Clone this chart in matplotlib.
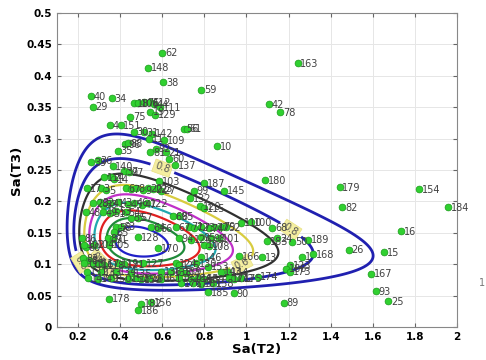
import numpy as np
import matplotlib
matplotlib.use('Agg')
import matplotlib.pyplot as plt

# --- record points: (Sa(T2), Sa(T3), id) ---
upper_pts = [
    (0.601, 0.437, '62'), (0.533, 0.413, '148'), (0.604, 0.390, '38'), (0.786, 0.378, '59'),
    (0.260, 0.368, '40'), (0.360, 0.364, '34'), (0.270, 0.351, '29'), (0.465, 0.357, '18'),
    (0.485, 0.357, '106'), (0.513, 0.358, '76'), (0.541, 0.358, '112'), (0.560, 0.355, '44'),
    (0.590, 0.350, '111'), (1.107, 0.355, '42'), (1.159, 0.342, '78'), (1.243, 0.420, '163'),
    (0.448, 0.335, '75'), (0.543, 0.343, '19'), (0.566, 0.338, '129'), (0.352, 0.322, '4'),
    (0.402, 0.322, '151'), (0.701, 0.316, '56'), (0.716, 0.316, '61'), (0.862, 0.288, '10'),
    (0.464, 0.311, '30'), (0.513, 0.310, '31'), (0.550, 0.308, '142'), (0.538, 0.300, '11'),
    (0.609, 0.298, '109'), (0.424, 0.291, '96'), (0.435, 0.293, '88'), (0.388, 0.281, '35'),
    (0.543, 0.278, '81'), (0.570, 0.284, '92'), (0.617, 0.278, '21'), (0.633, 0.268, '60'),
    (0.262, 0.262, '39'), (0.293, 0.266, '36'), (0.661, 0.258, '137'), (0.364, 0.256, '140'),
    (0.418, 0.248, '37'), (0.442, 0.247, '97'), (0.584, 0.232, '103'), (0.797, 0.229, '187'),
    (0.892, 0.217, '145'), (1.090, 0.234, '180'),
]

mid_upper_pts = [
    (0.323, 0.239, '114'), (0.356, 0.239, '2'), (0.371, 0.236, '14'),
    (0.243, 0.221, '17'), (0.309, 0.221, '3'), (0.333, 0.218, '5'), (0.427, 0.221, '6'),
    (0.451, 0.219, '7'), (0.475, 0.221, '8'), (0.508, 0.218, '9'), (0.532, 0.221, '20'),
    (0.555, 0.219, '22'), (0.579, 0.221, '23'), (0.593, 0.217, '27'),
    (0.750, 0.217, '99'), (0.731, 0.205, '132'),
    (0.271, 0.197, '28'), (0.304, 0.199, '32'), (0.318, 0.195, '33'), (0.352, 0.197, '41'),
    (0.390, 0.199, '43'), (0.437, 0.196, '45'), (0.465, 0.198, '46'), (0.503, 0.195, '47'),
    (0.527, 0.197, '122'), (0.778, 0.193, '120'), (0.797, 0.189, '115'),
    (0.238, 0.183, '48'), (0.318, 0.183, '49'), (0.352, 0.181, '51'), (0.380, 0.184, '53'),
    (0.427, 0.183, '54'), (0.650, 0.177, '69'), (0.679, 0.177, '85'),
    (0.973, 0.166, '110'), (1.020, 0.167, '100'), (0.451, 0.174, '55'), (0.484, 0.174, '57'),
]

mid_pts = [
    (0.380, 0.159, '58'), (0.404, 0.160, '63'), (0.546, 0.159, '64'), (0.579, 0.157, '66'),
    (0.664, 0.159, '67'), (0.726, 0.160, '71'), (0.750, 0.158, '72'), (0.783, 0.159, '73'),
    (0.821, 0.157, '74'), (0.845, 0.159, '77'), (0.878, 0.160, '79'), (0.901, 0.159, '52'),
    (0.484, 0.143, '128'), (0.371, 0.151, '65'), (0.579, 0.126, '170'), (0.736, 0.139, '126'),
    (0.238, 0.127, '80'), (0.224, 0.110, '83'), (0.252, 0.107, '84'),
    (0.219, 0.142, '86'), (0.342, 0.142, '87'), (0.366, 0.140, '91'), (0.679, 0.142, '94'),
    (0.783, 0.143, '95'), (0.830, 0.141, '98'), (0.868, 0.142, '101'),
    (0.228, 0.131, '102'), (0.276, 0.131, '104'), (0.347, 0.131, '105'), (0.797, 0.131, '107'),
    (0.821, 0.129, '108'), (0.783, 0.111, '146'), (0.508, 0.102, '127'), (0.816, 0.096, '153'),
    (0.963, 0.113, '166'),
]

lower_pts = [
    (0.228, 0.102, '113'), (0.271, 0.100, '116'), (0.300, 0.102, '117'), (0.323, 0.099, '118'),
    (0.390, 0.102, '119'), (0.418, 0.100, '121'), (0.664, 0.102, '124'), (0.679, 0.099, '125'),
    (0.759, 0.102, '130'),
    (0.243, 0.088, '131'), (0.309, 0.087, '133'), (0.380, 0.088, '134'), (0.451, 0.086, '135'),
    (0.593, 0.088, '136'), (0.641, 0.087, '138'), (0.688, 0.088, '139'), (0.712, 0.086, '141'),
    (0.878, 0.088, '143'), (0.911, 0.087, '144'),
    (0.247, 0.078, '147'), (0.295, 0.077, '149'), (0.356, 0.078, '150'), (0.437, 0.077, '152'),
    (0.475, 0.078, '157'), (0.499, 0.076, '159'), (0.536, 0.078, '160'), (0.593, 0.077, '161'),
    (0.679, 0.078, '162'), (0.736, 0.077, '164'), (0.769, 0.078, '165'), (0.797, 0.076, '169'),
    (0.916, 0.078, '171'), (0.939, 0.077, '172'), (0.973, 0.078, '175'),
    (0.688, 0.070, '176'), (0.745, 0.070, '177'), (0.783, 0.069, '181'), (0.840, 0.070, '158'),
    (0.816, 0.056, '185'), (0.939, 0.054, '90'), (0.347, 0.045, '178'), (0.546, 0.040, '156'),
    (0.499, 0.037, '182'), (0.484, 0.027, '186'),
]

right_pts = [
    (1.442, 0.223, '179'), (1.819, 0.219, '154'), (1.456, 0.191, '82'), (1.958, 0.191, '184'),
    (1.736, 0.153, '16'), (1.485, 0.123, '26'), (1.655, 0.119, '15'), (1.591, 0.085, '167'),
    (1.615, 0.057, '93'), (1.673, 0.041, '25'), (1.176, 0.039, '89'), (1.293, 0.139, '189'),
    (1.315, 0.116, '168'), (1.123, 0.158, '68'), (1.146, 0.142, '24'), (1.099, 0.137, '183'),
    (1.218, 0.136, '50'), (1.075, 0.111, '13'), (1.265, 0.112, '1'), (1.206, 0.099, '123'),
    (1.190, 0.093, '188'), (1.209, 0.088, '173'), (1.053, 0.080, '174'),
]

# --- fitted joint lognormal (log-space mean / std / correlation) ---
mu_lnx, mu_lny = -0.72, -2.01
sd_lnx, sd_lny = 0.555, 0.387
rho = -0.2
prob_levels = [0.1, 0.2, 0.3, 0.4, 0.5, 0.6, 0.7, 0.8, 0.9]
level_colors = ['#2020c8', '#1f8a3a', '#e02020', '#20a8b0', '#c030c8',
                '#d8cc40', '#303030', '#2020b0', '#2020b0']
level_widths = [1.6, 1.6, 1.6, 1.6, 1.6, 1.6, 1.6, 2.0, 2.0]
# where each labelled contour gets its label
clabel_spots = {
    0.8: [(0.603, 0.255), (1.22, 0.16), (0.20, 0.10)],
    0.6: [(0.98, 0.10), (0.34, 0.083)],
    0.5: [(0.35, 0.125)],
}

x_ticks = [0.2, 0.4, 0.6, 0.8, 1.0, 1.2, 1.4, 1.6, 1.8, 2.0]
x_tick_labels = ['0.2', '0.4', '0.6', '0.8', '1', '1.2', '1.4', '1.6', '1.8', '2']
y_ticks = [0, 0.05, 0.1, 0.15, 0.2, 0.25, 0.3, 0.35, 0.4, 0.45, 0.5]
y_tick_labels = ['0', '0.05', '0.1', '0.15', '0.2', '0.25', '0.3', '0.35', '0.4', '0.45', '0.5']

fig = plt.figure(figsize=(4.86, 3.6), dpi=100)
ax = fig.add_axes([0.1173, 0.0917, 0.823, 0.872])

# contours, one set per level so each can be labelled on its own
gx = np.linspace(0.1, 2.0, 500)
gy = np.linspace(0.002, 0.5, 500)
X, Y = np.meshgrid(gx, gy)
u = (np.log(X) - mu_lnx) / sd_lnx
v = (np.log(Y) - mu_lny) / sd_lny
Q = (u**2 - 2 * rho * u * v + v**2) / (1 - rho**2)

for p, col, lw in zip(prob_levels, level_colors, level_widths):
    q = -2 * np.log(1 - p)
    cs = ax.contour(X, Y, Q, levels=[q], colors=[col], linewidths=lw, zorder=2)
    if p in clabel_spots:
        txts = ax.clabel(cs, manual=clabel_spots[p], fmt={q: '%g' % p},
                         inline=True, fontsize=7, colors='#555555')
        for t in txts:
            t.set_bbox(dict(boxstyle='square,pad=0.15', facecolor='#f4eea0',
                            edgecolor='#e8e080', linewidth=0.5))
            t.set_zorder(3)

# points + ids
for group in [upper_pts, mid_upper_pts, mid_pts, lower_pts, right_pts]:
    xs = [p[0] for p in group]
    ys = [p[1] for p in group]
    ax.scatter(xs, ys, s=24, c='#30d030', edgecolors='#1a9a1a', linewidths=0.5, zorder=4)
    for px, py, lab in group:
        ax.annotate(lab, (px, py), xytext=(2.0, -0.5), textcoords='offset points',
                    fontsize=7, color='#404040', ha='left', va='center', zorder=5)

ax.set_xlim(0.1, 2.0)
ax.set_ylim(0, 0.5)
ax.set_xticks(x_ticks)
ax.set_xticklabels(x_tick_labels)
ax.set_yticks(y_ticks)
ax.set_yticklabels(y_tick_labels)
ax.tick_params(direction='in', top=True, right=True, labelsize=7.5, length=3, color='#666666')
for lab in ax.get_xticklabels() + ax.get_yticklabels():
    lab.set_fontweight('bold')
ax.grid(True, color='#e6e6e6', linewidth=0.7, zorder=0)
ax.set_axisbelow(True)
for sp in ax.spines.values():
    sp.set_color('#888888')
ax.set_xlabel('Sa(T2)', fontsize=9.5, fontweight='bold', labelpad=1)
ax.set_ylabel('Sa(T3)', fontsize=9.5, fontweight='bold', labelpad=2)

fig.text(0.985, 0.215, '1', fontsize=7, color='#777777', ha='left', va='center')

fig.savefig('out.png', dpi=100)
